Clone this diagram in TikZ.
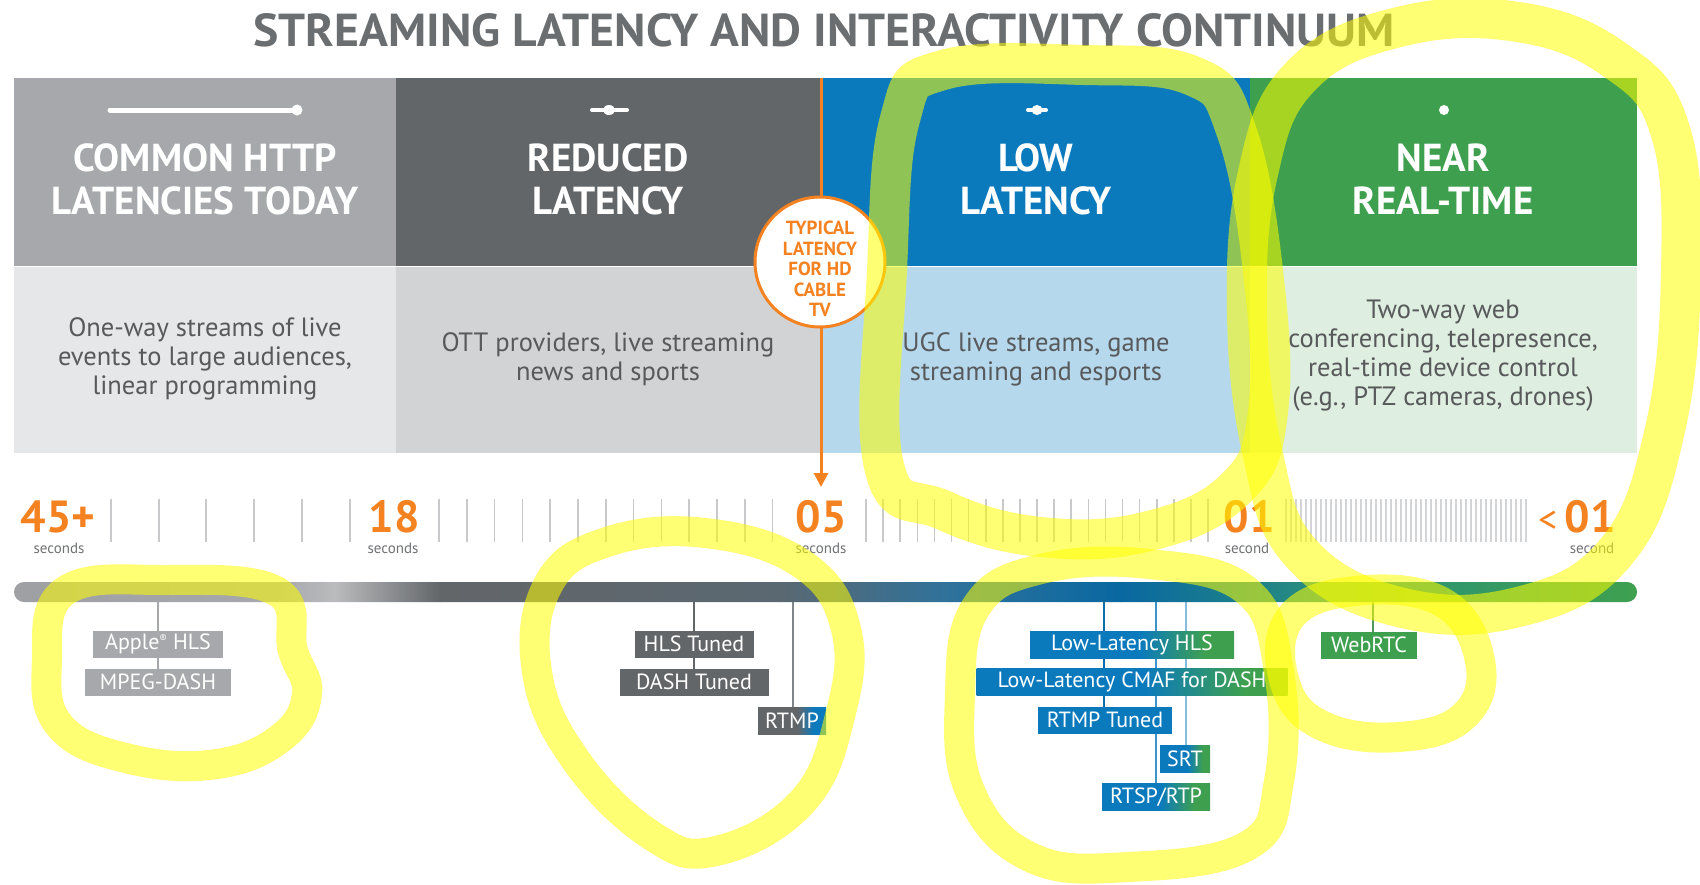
\documentclass[tikz,border=0pt]{standalone}
\usepackage{fontspec}
\setmainfont{PT Sans}
\usetikzlibrary{arrows.meta,calc}
\definecolor{cgrayA}{HTML}{A6A8AB}
\definecolor{cgrayB}{HTML}{636669}
\definecolor{cblue}{HTML}{0B7ABD}
\definecolor{cgreen}{HTML}{3EA04F}
\definecolor{dgrayA}{HTML}{E6E7E8}
\definecolor{dgrayB}{HTML}{D1D3D4}
\definecolor{dblue}{HTML}{B5D8EC}
\definecolor{dgreen}{HTML}{DEEEE0}
\definecolor{corange}{HTML}{F58220}
\definecolor{ctext}{HTML}{58595B}
\definecolor{ctitle}{HTML}{6B6E71}
\definecolor{ctick}{HTML}{C8C9CB}
\definecolor{hlyellow}{HTML}{FFFF00}
\pgfdeclarehorizontalshading{rtmpshade}{100bp}{color(0bp)=(cgrayB); color(25bp)=(cgrayB); color(54bp)=(cgrayB); color(66bp)=(cblue); color(100bp)=(cblue)}
\pgfdeclarehorizontalshading{bgshade}{100bp}{color(0bp)=(cblue); color(25bp)=(cblue); color(52bp)=(cblue); color(68bp)=(cgreen); color(100bp)=(cgreen)}
\pgfdeclarelayer{back}
\pgfdeclarelayer{lines}
\pgfdeclarelayer{top}
\pgfsetlayers{back,lines,main,top}
\begin{document}
\begin{tikzpicture}[x=1pt,y=-1pt,
  hdr/.style={text=white, font=\fontsize{39}{43}\selectfont\bfseries, align=center, anchor=base, inner sep=0},
  desc/.style={text=ctext, font=\fontsize{26.5}{29}\selectfont, align=center, anchor=base, inner sep=0},
  num/.style={text=corange, font=\fontsize{45}{45}\selectfont\bfseries, anchor=base, inner sep=0},
  secs/.style={text=ctext!85, font=\fontsize{15}{15}\selectfont, anchor=base, inner sep=0},
  tag/.style={text=white, font=\fontsize{22}{22}\selectfont, minimum height=27, inner sep=0, anchor=center},
  conn/.style={line width=1.6},
  tickline/.style={draw=ctick, line width=1.6},
  hl/.style={draw=hlyellow, draw opacity=0.55, line width=30, line join=round},
]
\useasboundingbox (0,0) rectangle (1700,884);
\begin{pgfonlayer}{back}
\fill[white] (0,0) rectangle (1700,884);
\fill[cgrayA] (14,78) rectangle (396,266);
\fill[cgrayB] (396,78) rectangle (821,266);
\fill[cblue] (821,78) rectangle (1250,266);
\fill[cgreen] (1250,78) rectangle (1637,266);
\fill[dgrayA] (14,267) rectangle (396,453);
\fill[dgrayB] (396,267) rectangle (821,453);
\fill[dblue] (821,267) rectangle (1250,453);
\fill[dgreen] (1250,267) rectangle (1637,453);
\end{pgfonlayer}

% title
\node[anchor=base, inner sep=0, text=ctitle] (title) at (824,46)
  {\resizebox{1141pt}{33pt}{\fontsize{47}{47}\selectfont\bfseries STREAMING LATENCY AND INTERACTIVITY CONTINUUM}};

% icons
\draw[white, line width=5, line cap=round] (110,110) -- (294,110);
\fill[white] (297,110) circle (5.5);
\draw[white, line width=4, line cap=round] (592,110) -- (627,110);
\fill[white] (609,110) ellipse (6 and 5);
\draw[white, line width=4, line cap=round] (1028,110) -- (1046,110);
\fill[white] (1037,110) ellipse (5.5 and 5);
\fill[white] (1444,110) circle (5);

% headers (anchor base = last line)
\node[hdr] (h1) at (205,214) {COMMON HTTP\\LATENCIES TODAY};
\node[hdr] (h2) at (608,214) {REDUCED\\LATENCY};
\node[hdr] (h3) at (1036,214) {LOW\\LATENCY};
\node[hdr] (h4) at (1443,214) {NEAR\\REAL-TIME};

% descriptions (anchor base = last line)
\node[desc] (d1) at (205,394) {One-way streams of live\\events to large audiences,\\linear programming};
\node[desc] (d2) at (608,380) {OTT providers, live streaming\\news and sports};
\node[desc] (d3) at (1036,380) {UGC live streams, game\\streaming and esports};
\node[desc] (d4) at (1443,405) {Two-way web\\conferencing, telepresence,\\real-time device control\\(e.g., PTZ cameras, drones)};

% orange marker
\coordinate (otop) at (821,78);
\coordinate (otip) at (821,487);
\draw[corange, line width=3, -{Triangle[length=14pt,width=14pt]}] (otop) -- (otip);
\node[circle, draw=corange, line width=3, fill=white, minimum size=130, inner sep=0] (typ) at (820,262) {};
\node[text=corange, font=\fontsize{19}{20.5}\selectfont\bfseries, align=center, inner sep=0] (typtxt) at (820,269)
  {TYPICAL\\LATENCY\\FOR HD\\CABLE\\TV};

% ticks
\foreach \x in {111,159,206,254,302,350} \draw[tickline] (\x,499) -- (\x,542);
\foreach \i in {0,...,12} \draw[tickline] ({439+27.8*\i},499) -- ({439+27.8*\i},542);
\foreach \i in {0,...,20} \draw[tickline] ({866+17.1*\i},499) -- ({866+17.1*\i},542);
\foreach \i in {0,...,48} \draw[draw=ctick!80, line width=1.1] ({1286+5*\i},499) -- ({1286+5*\i},542);

% numbers
\node[num] (n45) at (58,532) {45+};
\node[secs] (s45) at (59,553) {seconds};
\node[num] (n18) at (394,532) {18};
\node[secs] (s18) at (393,553) {seconds};
\node[num] (n05) at (821,532) {05};
\node[secs] (s05) at (821,553) {seconds};
\node[num] (n01) at (1249,532) {01};
\node[secs] (s01) at (1247,553) {second};
\node[num] (nlt) at (1577,532) {{\fontsize{38}{38}\selectfont\mdseries<}\,01};
\node[secs] (slt) at (1592,553) {second};

% gradient bar
\begin{scope}
\clip[rounded corners=10] (14,582) rectangle (1637,602);
\shade[left color=cgrayA!95!black, right color=cgrayA] (14,582) rectangle (280.5,602);
\shade[left color=cgrayA, right color=cgrayA!78!white] (280,582) rectangle (335.5,602);
\shade[left color=cgrayA!78!white, right color=cgrayB] (335,582) rectangle (440.5,602);
\shade[left color=cgrayB, right color=cgrayB!90!cblue] (440,582) rectangle (780.5,602);
\shade[left color=cgrayB!90!cblue, right color=cgrayB!40!cblue] (780,582) rectangle (950.5,602);
\shade[left color=cgrayB!40!cblue, right color=cblue!85!black] (950,582) rectangle (1120.5,602);
\shade[left color=cblue!85!black, right color=cgreen!60!cblue] (1120,582) rectangle (1330.5,602);
\shade[left color=cgreen!60!cblue, right color=cgreen] (1330,582) rectangle (1637,602);
\end{scope}

% tags
\node[tag, fill=cgrayA, minimum width=130] (apple) at (158,644) {Apple{\fontsize{11}{11}\selectfont\raisebox{7pt}{®}} HLS};
\node[tag, fill=cgrayA, minimum width=146] (mpeg) at (158,682) {MPEG-DASH};
\node[tag, fill=cgrayB, minimum width=119] (hlst) at (694,644) {HLS Tuned};
\node[tag, fill=cgrayB, minimum width=149] (dasht) at (694,682) {DASH Tuned};
\node[tag, shade, shading=rtmpshade, minimum width=68] (rtmp) at (792,721) {RTMP};
\node[tag, shade, shading=bgshade, minimum width=204] (llhls) at (1132,645) {Low-Latency HLS};
\node[tag, shade, shading=bgshade, minimum width=311] (cmaf) at (1132,682) {Low-Latency CMAF for DASH};
\node[tag, fill=cblue, minimum width=134] (rtmpt) at (1105,720) {RTMP Tuned};
\node[tag, shade, shading=bgshade, minimum width=50] (srt) at (1185,759) {SRT};
\node[tag, shade, shading=bgshade, minimum width=108] (rtsp) at (1156,797) {RTSP/RTP};
\node[tag, fill=cgreen, minimum width=96] (webrtc) at (1369,645) {WebRTC};

% connectors
\coordinate (b1) at (158,600);
\coordinate (b2) at (694,600);
\coordinate (b3) at (793,600);
\coordinate (b4) at (1104,600);
\coordinate (b5) at (1156,600);
\coordinate (b6) at (1186,600);
\coordinate (b7) at (1373,600);
\begin{pgfonlayer}{lines}
\draw[conn, cgrayA] (b1) -- (mpeg.center);
\draw[conn, cgrayB] (b2) -- (dasht.center);
\draw[conn, cgrayB!80!white] (b3) -- (rtmp.center -| b3);
\draw[conn, cblue!90!black] (b4) -- (rtmpt.center -| b4);
\draw[conn, cblue!80!white] (b5) -- (rtsp.center -| b5);
\draw[conn, cblue!50!white] (b6) -- (srt.center -| b6);
\draw[conn, cgreen!70!gray] (b7) -- (webrtc.center -| b7);
\end{pgfonlayer}

% highlighter strokes
\begin{pgfonlayer}{top}
\draw[hl] plot[smooth cycle, tension=0.7] coordinates {(65,591) (163,580) (276,591) (293,651) (307,694) (282,737) (217,764) (130,759) (60,726) (47,661)};
\draw[hl] plot[smooth cycle, tension=0.7] coordinates {(607,542) (705,533) (802,564) (846,629) (840,716) (802,802) (716,851) (651,835) (575,759) (537,672) (548,585)};
\draw[hl, line width=40] plot[smooth cycle, tension=0.7] coordinates {(884,466) (887,271) (900,119) (943,70) (1084,65) (1193,76) (1236,130) (1263,271) (1268,412) (1236,488) (1149,531) (1041,537) (943,510)};
\draw[hl, line width=40] plot[smooth cycle, tension=0.7] coordinates {(1258,173) (1301,76) (1399,27) (1518,22) (1615,60) (1670,130) (1681,271) (1664,434) (1615,553) (1518,607) (1399,607) (1301,553) (1263,455) (1247,314)};
\draw[hl] plot[smooth cycle, tension=0.7] coordinates {(976,607) (1041,569) (1149,564) (1247,591) (1279,672) (1279,781) (1247,846) (1128,867) (1030,857) (970,791) (960,694)};
\draw[hl] plot[smooth cycle, tension=0.7] coordinates {(1290,618) (1355,591) (1442,602) (1480,661) (1464,716) (1399,737) (1323,726) (1285,683)};
\end{pgfonlayer}
\end{tikzpicture}
\end{document}
